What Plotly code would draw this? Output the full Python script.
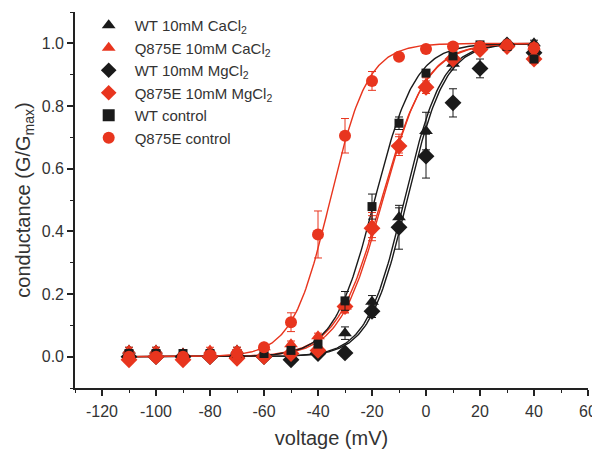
import numpy as np
import plotly.graph_objects as go

voltage = [-110, -100, -90, -80, -70, -60, -50, -40, -30, -20, -10, 0, 10, 20, 30, 40]

wt_ca = [0.02, 0.02, 0.01, 0.01, 0.02, 0.01, 0.02, 0.03, 0.075, 0.175, 0.445, 0.72, 0.935, 0.99, 0.995, 1.0]
wt_ca_err = [0.01, 0.01, 0.01, 0.01, 0.01, 0.01, 0.01, 0.01, 0.02, 0.02, 0.03, 0.06, 0.02, 0.01, 0.01, 0.01]

q_ca = [0.02, 0.02, 0.01, 0.02, 0.02, 0.03, 0.04, 0.065, 0.16, 0.42, 0.68, 0.87, 0.96, 0.99, 1.0, 0.99]
q_ca_err = [0.01, 0.01, 0.01, 0.01, 0.01, 0.01, 0.01, 0.01, 0.02, 0.04, 0.03, 0.02, 0.01, 0.01, 0.01, 0.01]

wt_mg = [0.0, 0.0, 0.0, 0.0, 0.0, 0.0, -0.01, 0.01, 0.012, 0.145, 0.413, 0.64, 0.81, 0.92, 0.995, 0.97]
wt_mg_err = [0.01, 0.01, 0.01, 0.01, 0.01, 0.01, 0.01, 0.01, 0.01, 0.02, 0.07, 0.07, 0.045, 0.03, 0.01, 0.01]

q_mg = [-0.01, 0.0, -0.01, 0.0, -0.005, 0.0, 0.01, 0.02, 0.16, 0.41, 0.672, 0.86, 0.95, 0.98, 0.99, 0.95]
q_mg_err = [0.01, 0.01, 0.01, 0.01, 0.01, 0.01, 0.01, 0.01, 0.02, 0.04, 0.03, 0.02, 0.01, 0.01, 0.01, 0.01]

wt_ctl = [0.01, 0.01, 0.01, 0.01, 0.01, 0.01, 0.02, 0.04, 0.178, 0.479, 0.745, 0.905, 0.96, 0.995, 0.99, 0.95]
wt_ctl_err = [0.01, 0.01, 0.01, 0.01, 0.01, 0.01, 0.01, 0.01, 0.03, 0.04, 0.02, 0.01, 0.01, 0.01, 0.01, 0.01]

q_ctl = [0.0, 0.0, 0.0, 0.005, 0.01, 0.03, 0.11, 0.39, 0.705, 0.88, 0.957, 0.982, 0.99, 0.99, 0.995, 0.985]
q_ctl_err = [0.01, 0.01, 0.01, 0.01, 0.01, 0.01, 0.03, 0.075, 0.055, 0.03, 0.01, 0.01, 0.01, 0.01, 0.01, 0.01]

x_tickvals = [-120, -100, -80, -60, -40, -20, 0, 20, 40, 60]
x_ticktext = ["-120", "-100", "-80", "-60", "-40", "-20", "0", "20", "40", "60"]
y_tickvals = [0.0, 0.2, 0.4, 0.6, 0.8, 1.0]
y_ticktext = ["0.0", "0.2", "0.4", "0.6", "0.8", "1.0"]

# Boltzmann fit parameters (V1/2 in mV, slope k in mV)
fit_vhalf = {"wt_ca": -8.0, "q_ca": -16.5, "wt_mg": -7.0, "q_mg": -16.0, "wt_ctl": -19.0, "q_ctl": -35.5}
fit_k = {"wt_ca": 7.0, "q_ca": 8.3, "wt_mg": 7.0, "q_mg": 8.0, "wt_ctl": 7.5, "q_ctl": 7.0}

RED = "#e8351e"
BLK = "#1a1a1a"

series = [
    ("wt_ca", "WT 10mM CaCl<sub>2</sub>", wt_ca, wt_ca_err, BLK, "triangle-up", 12),
    ("q_ca", "Q875E 10mM CaCl<sub>2</sub>", q_ca, q_ca_err, RED, "triangle-up", 12),
    ("wt_mg", "WT 10mM MgCl<sub>2</sub>", wt_mg, wt_mg_err, BLK, "diamond", 13),
    ("q_mg", "Q875E 10mM MgCl<sub>2</sub>", q_mg, q_mg_err, RED, "diamond", 13),
    ("wt_ctl", "WT control", wt_ctl, wt_ctl_err, BLK, "square", 9),
    ("q_ctl", "Q875E control", q_ctl, q_ctl_err, RED, "circle", 12),
]

fig = go.Figure()
vfit = np.linspace(-110, 40, 301)
for key, name, y, err, col, sym, size in series:
    g = 1.0 / (1.0 + np.exp((fit_vhalf[key] - vfit) / fit_k[key]))
    fig.add_trace(go.Scatter(x=vfit, y=g, mode="lines", line=dict(color=col, width=1.4),
                             showlegend=False, hoverinfo="skip"))
for key, name, y, err, col, sym, size in series:
    fig.add_trace(go.Scatter(
        x=voltage, y=y, mode="markers", name=name,
        marker=dict(symbol=sym, size=size, color=col, line=dict(width=0)),
        error_y=dict(type="data", array=err, visible=True, color=col, thickness=1, width=4),
    ))

font_family = "Liberation Sans, Arial, sans-serif"
axis_col = "#222222"
txt_col = "#333333"
fig.update_layout(
    width=592, height=450,
    margin=dict(l=67, r=12, t=4, b=70, autoexpand=False),
    paper_bgcolor="white", plot_bgcolor="white",
    font=dict(family=font_family, color=txt_col, size=15),
    legend=dict(x=0.015, y=1.008, xanchor="left", yanchor="top", itemwidth=42,
                bgcolor="rgba(0,0,0,0)", font=dict(size=15, color=txt_col),
                tracegroupgap=0, itemsizing="constant"),
    xaxis=dict(range=[-130, 60], tickmode="array", tickvals=x_tickvals, ticktext=x_ticktext,
               showgrid=False, zeroline=False, showline=True, linecolor=axis_col, linewidth=1.6,
               ticks="outside", ticklen=6, tickwidth=1.6, tickcolor=axis_col, ticklabelstandoff=2,
               minor=dict(ticks="outside", ticklen=3, tickwidth=1.4, tickcolor=axis_col, dtick=10),
               tickfont=dict(size=16, color=txt_col),
               title=dict(text="voltage (mV)", font=dict(size=20, color=txt_col), standoff=12)),
    yaxis=dict(range=[-0.1, 1.1], tickmode="array", tickvals=y_tickvals, ticktext=y_ticktext,
               showgrid=False, zeroline=False, showline=True, linecolor=axis_col, linewidth=1.6,
               ticks="outside", ticklen=6, tickwidth=1.6, tickcolor=axis_col,
               minor=dict(ticks="outside", ticklen=3, tickwidth=1.4, tickcolor=axis_col, dtick=0.1),
               tickfont=dict(size=16, color=txt_col),
               title=dict(text="conductance (G/G<sub>max</sub>)", font=dict(size=20, color=txt_col), standoff=6)),
)

fig.write_html("out.html")
